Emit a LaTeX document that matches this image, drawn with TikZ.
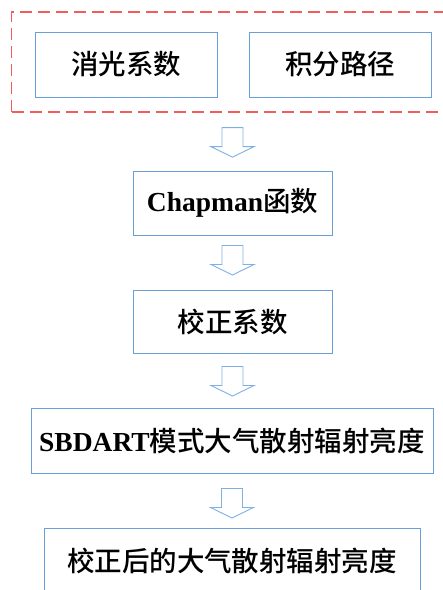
\documentclass[tikz,border=0pt]{standalone}
\usepackage{fontspec}
\setmainfont{Liberation Serif}
\newfontfamily\cjk{Noto Sans CJK SC}[BoldFont={Noto Sans CJK SC Medium}]
\usetikzlibrary{calc}
\definecolor{boxblue}{HTML}{6A9FD8}
\definecolor{arrblue}{HTML}{7FB0E2}
\definecolor{dashred}{HTML}{F25C5C}
\tikzset{
  stepbox/.style={draw=boxblue, line width=1pt, fill=white, inner sep=0pt,
    font=\fontsize{27.5}{32}\selectfont\bfseries},
  groupbox/.style={draw=dashred, line width=1.3pt, dash pattern=on 12pt off 6pt, inner sep=0pt},
  blockarrow/.pic={\draw[draw=arrblue, line width=0.9pt, fill=white]
    (-10.5,0) -- (10.5,0) -- (10.5,19) -- (21.5,19) -- (0,29.5) -- (-21.5,19) -- (-10.5,19) -- cycle;}
}
\begin{document}
\begin{tikzpicture}[x=1pt,y=-1pt]
\useasboundingbox (0,0) rectangle (443,590);
\clip (0,0) rectangle (443,590);
\node[groupbox, minimum width=446pt, minimum height=100pt] (grp) at (234.5,62) {};
\node[stepbox, minimum width=182pt, minimum height=65pt] (ext) at (126,64.5) {\cjk 消光系数};
\node[stepbox, minimum width=182pt, minimum height=65pt] (path) at (340,64.5) {\cjk 积分路径};
\node[stepbox, minimum width=199pt, minimum height=64pt] (chap) at (232.5,203) {Chapman{\cjk 函数}};
\node[stepbox, minimum width=199pt, minimum height=63pt] (corr) at (232.5,321.5) {\cjk 校正系数};
\node[stepbox, minimum width=402pt, minimum height=65pt] (sbd) at (232,440.5) {SBDART{\cjk 模式大气散射辐射亮度}};
\node[stepbox, minimum width=376pt, minimum height=65pt] (res) at (232,560.5) {\cjk 校正后的大气散射辐射亮度};
\pic at ($(chap.north |- grp.south)+(0,15)$) {blockarrow};
\pic at ($(chap.south)+(0,10)$) {blockarrow};
\pic at ($(corr.south)+(0,13)$) {blockarrow};
\pic at ($(sbd.south)+(0,15)$) {blockarrow};
\end{tikzpicture}
\end{document}
